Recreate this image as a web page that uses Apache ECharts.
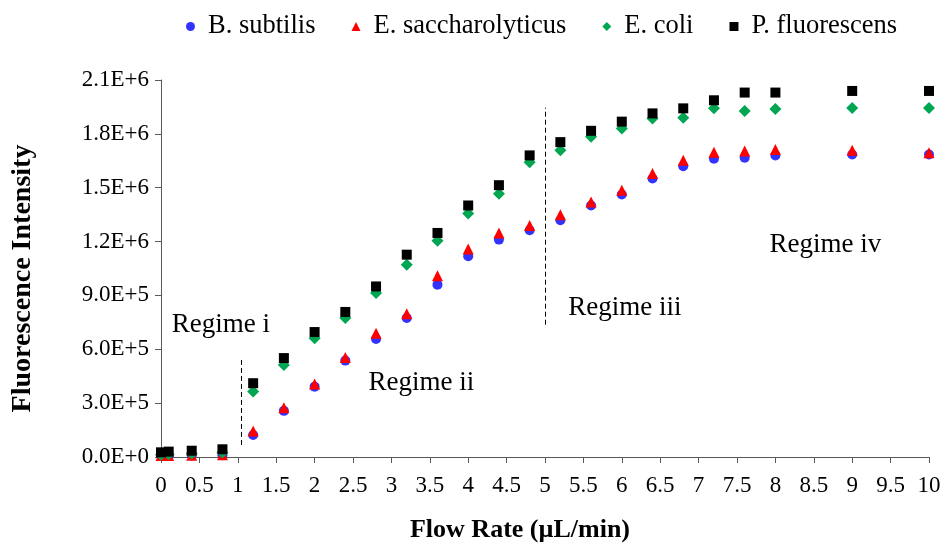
<!DOCTYPE html>
<html>
<head>
<meta charset="utf-8">
<script src="https://cdn.jsdelivr.net/npm/echarts@6/dist/echarts.min.js"></script>
<style>
  html, body { margin: 0; padding: 0; background: #fff; }
  #chart { width: 943px; height: 546px; }
</style>
</head>
<body>
<div id="chart"></div>
<script>
// flow rates (uL/min) shared by all four strains
const flowRates = [0, 0.1, 0.4, 0.8, 1.2, 1.6, 2.0, 2.4, 2.8, 3.2, 3.6, 4.0, 4.4, 4.8,
  5.2, 5.6, 6.0, 6.4, 6.8, 7.2, 7.6, 8, 9, 10];

const bSubtilis = [5000, 6000, 8000, 10000, 123000, 257000, 392000, 537000, 657000, 774000,
  960000, 1118000, 1211000, 1263000, 1319000, 1401000, 1462000, 1551000, 1620000, 1661000,
  1667000, 1680000, 1685000, 1685000];
const eSaccharolyticus = [8000, 9000, 10000, 12000, 145000, 275000, 407000, 554000, 690000, 798000,
  1010000, 1159000, 1248000, 1289000, 1350000, 1421000, 1486000, 1579000, 1653000, 1698000,
  1704000, 1713000, 1708000, 1695000];
const eColi = [12000, 15000, 20000, 25000, 365000, 513000, 662000, 774000, 913000, 1071000,
  1205000, 1356000, 1466000, 1642000, 1709000, 1784000, 1830000, 1886000, 1890000, 1942000,
  1927000, 1938000, 1944000, 1944000];
const pFluorescens = [26000, 30000, 35000, 43000, 411000, 551000, 696000, 808000, 950000, 1127000,
  1248000, 1401000, 1514000, 1680000, 1754000, 1817000, 1868000, 1914000, 1942000, 1987000,
  2030000, 2030000, 2039000, 2039000];

const seriesNames = ["B. subtilis", "E. saccharolyticus", "E. coli", "P. fluorescens"];

// regime boundaries: x, y from, y to
const boundaryX = [1.04, 5.0, 7.4];
const boundaryYFrom = [67000, 737000, 671000];
const boundaryYTo = [552000, 1946000, 2120000];

// regime labels anchored in data coordinates
const regimeNames = ["Regime i", "Regime ii", "Regime iii", "Regime iv"];
const regimeX = [0.78, 3.39, 6.04, 8.65];
const regimeY = [737000, 413000, 831000, 1183000];

const FONT = "Liberation Serif";

function sci(v) {
  if (v === 0) return "0.0E+0";
  const e = Math.floor(Math.log10(v) + 1e-9);
  return (v / Math.pow(10, e)).toFixed(1) + "E+" + e;
}

function pairs(ys) {
  return flowRates.map((x, i) => [x, ys[i]]);
}

const chart = echarts.init(document.getElementById("chart"));

const boundaryStyles = [
  { color: "#000", width: 1, type: [5, 3] },
  { color: "#000", width: 1, type: [5, 3] },
  { color: "#808080", width: 1.5, type: [7, 4] },
];

chart.setOption({
  animation: false,
  textStyle: { fontFamily: FONT },
  grid: { left: 161, right: 14, top: 80, bottom: 89, outerBoundsMode: "none", containLabel: false },
  legend: {
    data: seriesNames.map((n, i) => ({
      name: n,
      icon: ["circle", "triangle", "diamond", "rect"][i],
    })),
    left: 181,
    top: 8,
    itemWidth: 9,
    itemHeight: 9,
    itemGap: 36,
    textStyle: { fontFamily: FONT, fontSize: 26.5, color: "#000", padding: [0, 0, 0, 8] },
  },
  xAxis: {
    type: "value",
    min: 0,
    max: 10,
    interval: 0.5,
    name: "Flow Rate (\u00b5L/min)",
    nameLocation: "middle",
    nameGap: 60,
    nameTextStyle: { fontFamily: FONT, fontSize: 26, fontWeight: "bold", color: "#000", padding: [0, 50, 0, 0] },
    axisLine: { lineStyle: { color: "#595959", width: 1 } },
    axisTick: { length: 6, lineStyle: { color: "#595959" } },
    axisLabel: { fontFamily: FONT, fontSize: 23, color: "#000", margin: 17 },
    splitLine: { show: false },
  },
  yAxis: {
    type: "value",
    min: 0,
    max: 2100000,
    interval: 300000,
    name: "Fluorescence Intensity",
    nameLocation: "middle",
    nameGap: 124,
    nameTextStyle: { fontFamily: FONT, fontSize: 28, fontWeight: "bold", color: "#000", padding: [0, 20, 0, 0] },
    axisLine: { show: true, lineStyle: { color: "#595959", width: 1 } },
    axisTick: { show: true, length: 6, lineStyle: { color: "#595959" } },
    axisLabel: { fontFamily: FONT, fontSize: 23, color: "#000", margin: 12, formatter: sci },
    splitLine: { show: false },
  },
  series: [
    {
      name: seriesNames[0], type: "scatter", symbol: "circle", symbolSize: 10,
      itemStyle: { color: "#3333ff", opacity: 1 }, data: pairs(bSubtilis),
    },
    {
      name: seriesNames[1], type: "scatter", symbol: "triangle", symbolSize: 11,
      itemStyle: { color: "#ff0000", opacity: 1 }, data: pairs(eSaccharolyticus),
    },
    {
      name: seriesNames[2], type: "scatter", symbol: "diamond", symbolSize: 12,
      itemStyle: { color: "#00a651", opacity: 1 }, data: pairs(eColi),
    },
    {
      name: seriesNames[3], type: "scatter", symbol: "rect", symbolSize: 10,
      itemStyle: { color: "#000", opacity: 1 }, data: pairs(pFluorescens),
    },
    {
      // annotations only: regime boundaries and labels
      name: "annotations", type: "scatter", data: [], silent: true,
      markLine: {
        symbol: ["none", "none"],
        silent: true,
        label: { show: false },
        data: boundaryX.map((x, i) => [
          { coord: [x, boundaryYFrom[i]], lineStyle: boundaryStyles[i] },
          { coord: [x, boundaryYTo[i]] },
        ]),
      },
      markPoint: {
        symbol: "rect",
        symbolSize: 1,
        itemStyle: { color: "rgba(0,0,0,0)" },
        label: { show: true, position: "inside", fontFamily: FONT, fontSize: 27, color: "#000", formatter: (p) => p.name },
        data: regimeNames.map((n, i) => ({ name: n, coord: [regimeX[i], regimeY[i]] })),
      },
    },
  ],
});
</script>
</body>
</html>
